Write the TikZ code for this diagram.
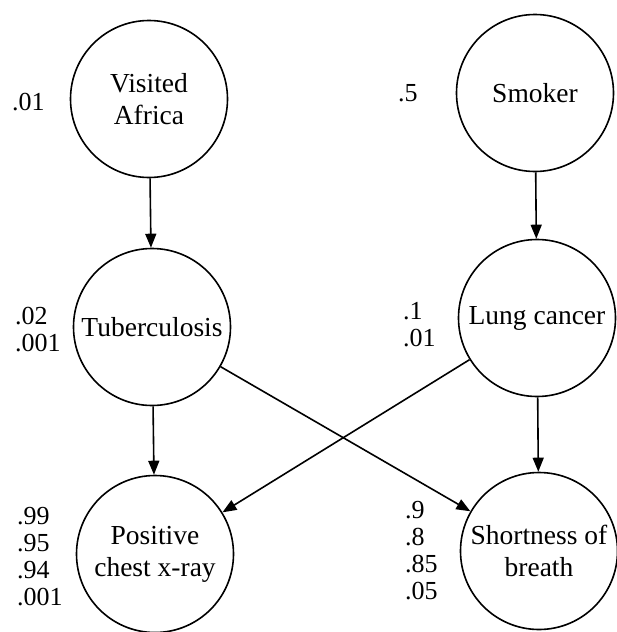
\documentclass[tikz,border=0pt]{standalone}
\usepackage{fontspec}
\setmainfont{Liberation Serif}
\usetikzlibrary{arrows.meta}
\begin{document}
\begin{tikzpicture}[x=1pt,y=-1pt,
  var/.style={circle,draw,line width=1.6pt,minimum size=157pt,inner sep=0pt,
    align=center,font=\fontsize{27.5}{32}\selectfont},
  prob/.style={align=left,anchor=west,inner sep=0pt,font=\fontsize{26}{27}\selectfont},
  edge/.style={line width=1.6pt,-{Triangle[length=14pt,width=11pt]}}]
\useasboundingbox (0,0) rectangle (616,632);
\node[var] (va) at (149,99) {Visited\\Africa};
\node[var] (sm) at (535,93) {Smoker};
\node[var] (tb) at (152,327) {Tuberculosis};
\node[var] (lc) at (537,318) {Lung cancer};
\node[var] (xr) at (155,554) {Positive\\chest x-ray};
\node[var] (sb) at (539,551) {Shortness of\\breath};
\node[prob] (pva) at (12,102) {.01};
\node[prob] (psm) at (398,93) {.5};
\node[prob] (ptb) at (15,330) {.02\\.001};
\node[prob] (plc) at (403,325) {.1\\.01};
\node[prob] (pxr) at (17,557) {.99\\.95\\.94\\.001};
\node[prob] (psb) at (405,551) {.9\\.8\\.85\\.05};
\draw[edge] (va) -- (tb);
\draw[edge] (sm) -- (lc);
\draw[edge] (tb) -- (xr);
\draw[edge] (lc) -- (sb);
\draw[edge] (tb) -- (sb);
\draw[edge] (lc) -- (xr);
\end{tikzpicture}
\end{document}
